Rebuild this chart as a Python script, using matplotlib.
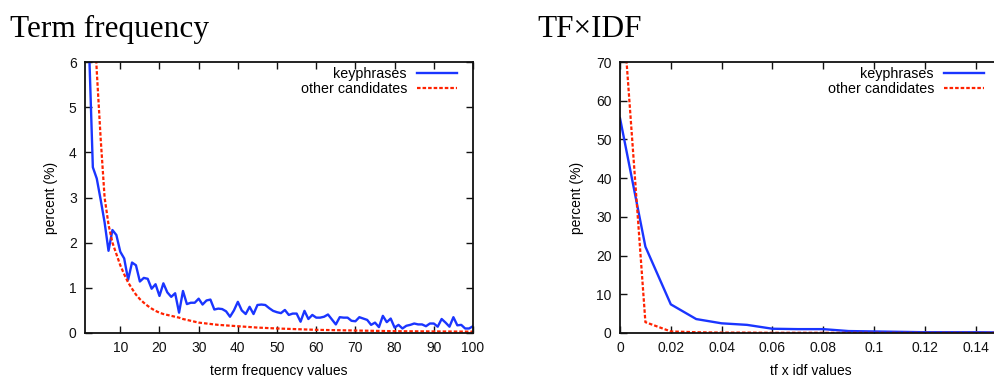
import matplotlib
matplotlib.use("Agg")
import matplotlib.pyplot as plt

# ---------------- Dados ----------------
tf_x = list(range(1, 101))
tf_keyphrases = [
    30.0, 6.4, 3.67, 3.42, 2.95, 2.45, 1.82, 2.28, 2.17, 1.80,
    1.65, 1.18, 1.56, 1.50, 1.14, 1.22, 1.20, 0.98, 1.08, 0.82,
    1.10, 0.90, 0.80, 0.88, 0.45, 0.93, 0.64, 0.67, 0.67, 0.76,
    0.63, 0.72, 0.74, 0.52, 0.54, 0.53, 0.48, 0.36, 0.50, 0.69,
    0.50, 0.42, 0.58, 0.42, 0.62, 0.63, 0.62, 0.55, 0.49, 0.46,
    0.44, 0.51, 0.40, 0.43, 0.43, 0.25, 0.49, 0.31, 0.40, 0.34,
    0.34, 0.36, 0.41, 0.30, 0.19, 0.35, 0.34, 0.34, 0.27, 0.26,
    0.35, 0.32, 0.29, 0.18, 0.23, 0.13, 0.38, 0.24, 0.32, 0.12,
    0.18, 0.10, 0.16, 0.18, 0.21, 0.19, 0.19, 0.15, 0.21, 0.21,
    0.14, 0.31, 0.23, 0.14, 0.35, 0.17, 0.18, 0.10, 0.10, 0.15,
]
tf_other_x = list(range(1, 31)) + [35, 40, 45, 50, 60, 70, 80, 90, 100]
tf_other = [
    40.0, 15.0, 7.5, 5.8, 4.3, 3.0, 2.4, 2.0, 1.75, 1.5,
    1.3, 1.12, 0.98, 0.85, 0.75, 0.67, 0.60, 0.54, 0.49, 0.45,
    0.42, 0.40, 0.38, 0.36, 0.34, 0.31, 0.29, 0.27, 0.25, 0.23,
    0.18, 0.15, 0.12, 0.10, 0.07, 0.055, 0.04, 0.035, 0.03,
]

tfidf_x = [0.0, 0.01, 0.02, 0.03, 0.04, 0.05, 0.06, 0.07, 0.08,
           0.09, 0.10, 0.11, 0.12, 0.13, 0.14, 0.15]
tfidf_keyphrases = [55.5, 22.3, 7.4, 3.6, 2.5, 2.1, 1.1, 1.0, 1.0,
                    0.5, 0.4, 0.3, 0.2, 0.2, 0.2, 0.15]
tfidf_other = [93.5, 2.8, 0.4, 0.2, 0.1, 0.1, 0.05, 0.05, 0.05,
               0.03, 0.03, 0.02, 0.02, 0.02, 0.02, 0.02]

# ---------------- Estilo ----------------
plt.rcParams["font.family"] = ["Liberation Sans", "DejaVu Sans"]
BLUE = "#1a35ff"
RED = "#ff2200"
W, H = 995, 376

fig = plt.figure(figsize=(W / 100, H / 100), dpi=100)


def style_axes(ax):
    ax.tick_params(direction="in", top=True, right=True, length=5, width=1,
                   labelsize=10, pad=6, colors="#111111")
    for s in ax.spines.values():
        s.set_linewidth(1.3)
        s.set_color("#111111")


def add_legend(ax, shift_px, width_px):
    # gnuplot: texto alinhado à direita, amostra da linha depois
    ax.legend(loc="upper right", bbox_to_anchor=(1 - shift_px / width_px, 1),
              frameon=False, markerfirst=False,
              fontsize=10.3, handlelength=2.8, handletextpad=0.7,
              labelspacing=0.1, borderpad=0.15, borderaxespad=0.2)


# -------- Term frequency --------
ax1 = fig.add_axes([85 / W, 43 / H, 388 / W, 271 / H])
ax1.plot(tf_x, tf_keyphrases, color=BLUE, lw=1.7, label="keyphrases")
ax1.plot(tf_other_x, tf_other, color=RED, lw=1.6, linestyle=(0, (1.6, 0.9)),
         label="other candidates")
ax1.set_xlim(1, 100)
ax1.set_ylim(0, 6)
ax1.set_xticks(range(10, 101, 10))
ax1.set_yticks(range(0, 7))
ax1.set_ylabel("percent (%)", fontsize=10, labelpad=8)
ax1.set_xlabel("term frequency values", fontsize=10, labelpad=6)
style_axes(ax1)
add_legend(ax1, 11, 388)

# -------- TF x IDF --------
ax2 = fig.add_axes([620 / W, 43 / H, 381 / W, 271 / H])
ax2.plot(tfidf_x, tfidf_keyphrases, color=BLUE, lw=1.7, label="keyphrases")
ax2.plot(tfidf_x, tfidf_other, color=RED, lw=1.6, linestyle=(0, (1.6, 0.9)),
         label="other candidates")
ax2.set_xlim(0, 0.15)
ax2.set_ylim(0, 70)
ax2.set_xticks([0, 0.02, 0.04, 0.06, 0.08, 0.1, 0.12, 0.14])
ax2.set_xticklabels(["0", "0.02", "0.04", "0.06", "0.08", "0.1", "0.12", "0.14"])
ax2.set_yticks(range(0, 71, 10))
ax2.set_ylabel("percent (%)", fontsize=10, labelpad=9)
ax2.set_xlabel("tf x idf values", fontsize=10, labelpad=6)
style_axes(ax2)
add_legend(ax2, 12, 381)

# -------- Títulos --------
fig.text(10 / W, 1 - 37 / H, "Term frequency", fontsize=22.5,
         family=["Liberation Serif", "DejaVu Serif"], va="baseline")
fig.text(537 / W, 1 - 37 / H, "TF×IDF", fontsize=22.5,
         family=["Liberation Serif", "DejaVu Serif"], va="baseline")

fig.savefig("out.png", dpi=100)
